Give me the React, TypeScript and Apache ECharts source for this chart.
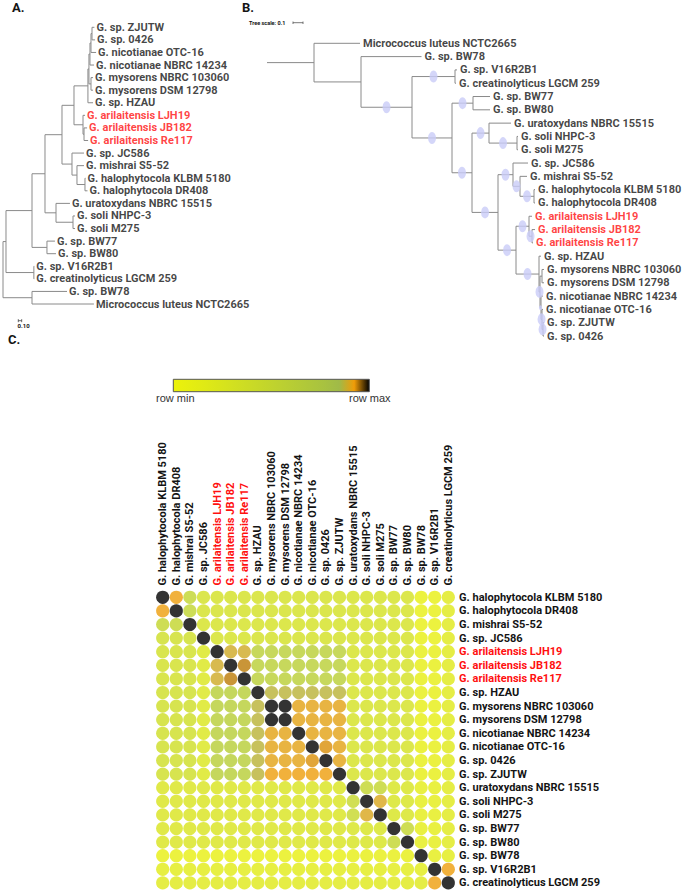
import React, { useEffect, useRef } from "react";
import * as echarts from "echarts";

// ---------- DATA ----------
const species: string[] = [
  "G. halophytocola KLBM 5180",
  "G. halophytocola DR408",
  "G. mishrai S5-52",
  "G. sp. JC586",
  "G. arilaitensis LJH19",
  "G. arilaitensis JB182",
  "G. arilaitensis Re117",
  "G. sp. HZAU",
  "G. mysorens NBRC 103060",
  "G. mysorens DSM 12798",
  "G. nicotianae NBRC 14234",
  "G. nicotianae OTC-16",
  "G. sp. 0426",
  "G. sp. ZJUTW",
  "G. uratoxydans NBRC 15515",
  "G. soli NHPC-3",
  "G. soli M275",
  "G. sp. BW77",
  "G. sp. BW80",
  "G. sp. BW78",
  "G. sp. V16R2B1",
  "G. creatinolyticus LGCM 259",
];

const highlighted: string[] = [
  "G. arilaitensis LJH19",
  "G. arilaitensis JB182",
  "G. arilaitensis Re117",
];

// position on the row-min .. row-max colour scale (0..100), row by row
const heatRows: number[][] = [
  [100, 92, 50, 31, 31, 31, 31, 31, 31, 31, 31, 31, 31, 31, 30, 30, 30, 30, 30, 6, 6, 18],
  [92, 100, 50, 31, 31, 31, 31, 31, 31, 31, 31, 31, 31, 31, 30, 30, 30, 30, 30, 6, 6, 18],
  [48, 48, 100, 30, 30, 30, 30, 30, 30, 30, 30, 30, 30, 30, 30, 30, 30, 30, 30, 6, 6, 18],
  [36, 36, 36, 100, 30, 30, 30, 31, 31, 31, 31, 31, 31, 31, 30, 30, 30, 30, 30, 6, 6, 18],
  [34, 34, 34, 22, 100, 89, 89, 58, 58, 58, 58, 58, 58, 58, 30, 30, 30, 30, 30, 8, 8, 18],
  [34, 34, 34, 22, 89, 100, 94, 58, 58, 58, 58, 58, 58, 58, 30, 30, 30, 30, 30, 8, 8, 18],
  [34, 34, 34, 22, 89, 94, 100, 58, 58, 58, 58, 58, 58, 58, 30, 30, 30, 30, 30, 8, 8, 18],
  [36, 36, 36, 22, 60, 60, 60, 100, 87, 87, 87, 87, 87, 87, 30, 30, 30, 30, 30, 8, 8, 18],
  [36, 36, 36, 22, 60, 60, 60, 87, 100, 100, 91, 91, 91, 91, 30, 30, 30, 30, 30, 8, 8, 18],
  [36, 36, 36, 22, 60, 60, 60, 87, 100, 100, 91, 91, 91, 91, 30, 30, 30, 30, 30, 8, 8, 18],
  [36, 36, 36, 22, 60, 60, 60, 87, 91, 91, 100, 91, 91, 91, 30, 30, 30, 30, 30, 8, 8, 18],
  [36, 36, 36, 22, 60, 60, 60, 87, 91, 91, 91, 100, 93, 91, 30, 30, 30, 30, 30, 8, 8, 18],
  [36, 36, 36, 22, 60, 60, 60, 87, 91, 91, 91, 93, 100, 91, 30, 30, 30, 30, 30, 8, 8, 18],
  [36, 36, 36, 22, 60, 60, 60, 87, 92, 92, 92, 92, 92, 100, 30, 30, 30, 30, 30, 8, 8, 18],
  [24, 24, 24, 24, 24, 24, 24, 24, 24, 24, 24, 24, 24, 24, 100, 48, 48, 26, 26, 12, 12, 18],
  [24, 24, 24, 24, 24, 24, 24, 24, 24, 24, 24, 24, 24, 24, 45, 100, 90, 26, 26, 12, 12, 18],
  [24, 24, 24, 24, 24, 24, 24, 24, 24, 24, 24, 24, 24, 24, 45, 90, 100, 26, 26, 12, 12, 18],
  [24, 24, 24, 24, 24, 24, 24, 24, 24, 24, 24, 24, 24, 24, 26, 26, 26, 100, 48, 12, 12, 18],
  [24, 24, 24, 24, 24, 24, 24, 24, 24, 24, 24, 24, 24, 24, 26, 26, 26, 48, 100, 12, 12, 18],
  [6, 6, 6, 6, 6, 6, 6, 6, 6, 6, 6, 6, 6, 6, 8, 8, 8, 8, 8, 100, 12, 14],
  [14, 14, 14, 14, 14, 14, 14, 14, 14, 14, 14, 14, 14, 14, 14, 14, 14, 14, 14, 14, 100, 92],
  [18, 18, 18, 18, 18, 18, 18, 18, 18, 18, 18, 18, 18, 18, 18, 18, 18, 18, 18, 18, 92, 100],
];

const scaleColors: string[] = [
  "#ecf20a", "#e6ee10", "#e0ea15", "#d9e51a", "#d2e020", "#cbdb25", "#c4d62a",
  "#bdd130", "#b6cc35", "#afc73a", "#a8c240", "#a0ba48", "#f09c08", "#000000",
];

const colorbarTexts: string[] = ["row min", "row max"];

// Tree A (branch lengths, substitutions per site)
const treeANewick =
  "((((((((((((G. sp. ZJUTW:0.07,G. sp. 0426:0.09):0.03,G. nicotianae OTC-16:0.15):0.03,G. nicotianae NBRC 14234:0.12):0.03,(G. mysorens NBRC 103060:0.06,G. mysorens DSM 12798:0.06):0.06):0.03,G. sp. HZAU:0.15):0.41," +
  "(G. arilaitensis LJH19:0.06,(G. arilaitensis JB182:0.09,G. arilaitensis Re117:0.12):0.03):0.265):0.353," +
  "(G. sp. JC586:0.353,(G. mishrai S5-52:0.206,(G. halophytocola KLBM 5180:0.015,G. halophytocola DR408:0.074):0.235):0.147):0.294):0.5," +
  "(G. uratoxydans NBRC 15515:0.41,(G. soli NHPC-3:0.06,G. soli M275:0.06):0.5):0.324):0.382," +
  "(G. sp. BW77:0.235,G. sp. BW80:0.265):0.44):0.765," +
  "(G. sp. V16R2B1:0.01,G. creatinolyticus LGCM 259:0.01):0.82):0.088," +
  "(G. sp. BW78:1.03,Micrococcus luteus NCTC2665:1.82):0.853)";

// Tree B (internal labels = support)
const treeBNewick =
  "((Micrococcus luteus NCTC2665:0.46,(G. sp. BW78:0.605,((G. sp. V16R2B1:0.02,G. creatinolyticus LGCM 259:0.01)100:0.43," +
  "((G. sp. BW77:0.17,G. sp. BW80:0.17)100:0.21," +
  "((G. uratoxydans NBRC 15515:0.22,(G. soli NHPC-3:0.01,G. soli M275:0.01)100:0.28)100:0.17," +
  "((G. sp. JC586:0.15,(G. mishrai S5-52:0.07,(G. halophytocola KLBM 5180:0.01,G. halophytocola DR408:0.01)100:0.14)100:0.07)100:0.15," +
  "((G. arilaitensis LJH19:0.03,(G. arilaitensis JB182:0.03,G. arilaitensis Re117:0.01)100:0.03)100:0.13," +
  "(G. sp. HZAU:0.02,((G. mysorens NBRC 103060:0.02,G. mysorens DSM 12798:0.02):0.02," +
  "(G. nicotianae NBRC 14234:0.02,(G. nicotianae OTC-16:0.01,(G. sp. ZJUTW:0.01,G. sp. 0426:0.01)100:0.01)100:0.01)40:0.01)100:0.01)100:0.23)100:0.18)100:0.26)100:0.20)100:0.40)100:0.51):0.47):0.47)";

// ---------- TREE HELPERS ----------
type TNode = { name: string; length: number; children: TNode[]; x: number; y: number };

function parseNewick(s: string): TNode {
  let i = 0;
  const parseNode = (): TNode => {
    const node: TNode = { name: "", length: 0, children: [], x: 0, y: 0 };
    if (s[i] === "(") {
      i++;
      for (;;) {
        node.children.push(parseNode());
        if (s[i] === ",") { i++; continue; }
        if (s[i] === ")") { i++; break; }
        break;
      }
    }
    let name = "";
    while (i < s.length && ":,();".indexOf(s[i]) < 0) { name += s[i]; i++; }
    node.name = name.trim();
    if (s[i] === ":") {
      i++;
      let num = "";
      while (i < s.length && ",();".indexOf(s[i]) < 0) { num += s[i]; i++; }
      node.length = parseFloat(num);
    }
    return node;
  };
  return parseNode();
}

function layoutTree(root: TNode) {
  const segs: number[][] = [];
  const leaves: TNode[] = [];
  const supports: { x: number; y: number; s: number }[] = [];
  let idx = 0;
  const walk = (n: TNode, x0: number, isRoot: boolean) => {
    n.x = x0 + (isRoot ? 0 : n.length);
    if (n.children.length === 0) {
      n.y = idx++;
      leaves.push(n);
    } else {
      n.children.forEach((c) => walk(c, n.x, false));
      const first = n.children[0];
      const last = n.children[n.children.length - 1];
      n.y = (first.y + last.y) / 2;
      segs.push([n.x, first.y, n.x, last.y]);
      const sup = parseFloat(n.name);
      if (!isNaN(sup)) supports.push({ x: (x0 + n.x) / 2, y: n.y, s: sup });
    }
    if (!isRoot && n.length > 0) segs.push([x0, n.y, n.x, n.y]);
  };
  walk(root, 0, true);
  return { segs, leaves, supports };
}

const FONT = "Roboto, 'Liberation Sans', Arial, sans-serif";
const RED = "#ff1010";
const INK = "#141414";

export default function App() {
  const ref = useRef<HTMLDivElement>(null);
  useEffect(() => {
    if (!ref.current) return;
    const chart = echarts.init(ref.current, undefined, { renderer: "svg" });

    const A = layoutTree(parseNewick(treeANewick));
    const B = layoutTree(parseNewick(treeBNewick));

    const gA = { left: 3, top: 27.3, width: 102, height: 276.7, xMax: 3 };
    const gB = { left: 267, top: 43.3, width: 300, height: 292.7, xMax: 3 };
    const gC = { left: 155.9, top: 590.5, width: 299.2, height: 299.2 };

    const branchItem = (stroke: string) => (params: any, api: any) => {
      const p1 = api.coord([api.value(0), api.value(1)]);
      const p2 = api.coord([api.value(2), api.value(3)]);
      return {
        type: "line",
        shape: { x1: p1[0], y1: p1[1], x2: p2[0], y2: p2[1] },
        style: { stroke, lineWidth: 1 },
      };
    };

    const isRed = (v: string) => highlighted.indexOf(v) >= 0;
    const labelColor = (v: string) => (isRed(v) ? RED : INK);

    const leafLabels = (leaves: TNode[]) =>
      leaves.map((l) => ({
        value: [l.x, l.y],
        name: l.name,
        label: { color: labelColor(l.name) },
      }));

    const heatData: number[][] = [];
    heatRows.forEach((row, r) => row.forEach((v, c) => heatData.push([c, r, v])));

    const n = scaleColors.length;
    const stops = scaleColors.map((c, i) => ({ offset: i / (n - 1), color: c }));

    const scaleA = (0.1 * gA.width) / gA.xMax;
    const scaleB = (0.1 * gB.width) / gB.xMax;

    const option: any = {
      animation: false,
      grid: [
        { left: gA.left, top: gA.top, width: gA.width, height: gA.height },
        { left: gB.left, top: gB.top, width: gB.width, height: gB.height },
        { left: gC.left, top: gC.top, width: gC.width, height: gC.height },
      ],
      xAxis: [
        { gridIndex: 0, type: "value", min: 0, max: gA.xMax, show: false },
        { gridIndex: 1, type: "value", min: 0, max: gB.xMax, show: false },
        {
          gridIndex: 2, type: "category", data: species, position: "top",
          axisLine: { show: false }, axisTick: { show: false }, splitLine: { show: false },
          axisLabel: { show: false },
        },
      ],
      yAxis: [
        { gridIndex: 0, type: "value", min: 0, max: 22, inverse: true, show: false },
        { gridIndex: 1, type: "value", min: 0, max: 22, inverse: true, show: false },
        {
          gridIndex: 2, type: "category", data: species, inverse: true, position: "right",
          axisLine: { show: false }, axisTick: { show: false }, splitLine: { show: false },
          axisLabel: {
            interval: 0, margin: 4, fontFamily: FONT, fontWeight: "bold",
            fontSize: 11, color: labelColor,
          },
        },
      ],
      visualMap: {
        type: "continuous", show: false, seriesIndex: 5, dimension: 2, min: 0, max: 100,
        inRange: { color: scaleColors },
      },
      series: [
        {
          type: "custom", xAxisIndex: 0, yAxisIndex: 0, data: A.segs,
          renderItem: branchItem("#8a8a8a"), silent: true,
        },
        {
          type: "scatter", xAxisIndex: 0, yAxisIndex: 0, symbolSize: 0, data: leafLabels(A.leaves),
          label: {
            show: true, position: "right", distance: 2, formatter: "{b}",
            fontFamily: FONT, fontWeight: "bold", fontSize: 11,
          },
          silent: true,
        },
        {
          type: "custom", xAxisIndex: 1, yAxisIndex: 1, data: B.segs,
          renderItem: branchItem("#8a8a8a"), silent: true,
        },
        {
          type: "scatter", xAxisIndex: 1, yAxisIndex: 1,
          data: B.supports.map((s) => ({
            value: [s.x, s.y],
            symbolSize: [8 * (s.s / 100), 12 * (s.s / 100)],
          })),
          symbol: "circle", itemStyle: { color: "#c9ccf7" }, silent: true,
        },
        {
          type: "scatter", xAxisIndex: 1, yAxisIndex: 1, symbolSize: 0, data: leafLabels(B.leaves),
          label: {
            show: true, position: "right", distance: 3, formatter: "{b}",
            fontFamily: FONT, fontWeight: "bold", fontSize: 11,
          },
          silent: true,
        },
        {
          type: "scatter", xAxisIndex: 2, yAxisIndex: 2, data: heatData, symbol: "circle",
          symbolSize: 13.2, silent: true,
        },
        {
          // column labels of the heatmap, read bottom to top
          type: "custom", xAxisIndex: 2, yAxisIndex: 2, clip: false, silent: true,
          data: species.map((_, i) => [i, 0]),
          renderItem: (params: any, api: any) => {
            const p = api.coord([api.value(0), api.value(1)]);
            const name = species[params.dataIndex];
            return {
              type: "text",
              x: p[0],
              y: gC.top - 5,
              rotation: Math.PI / 2,
              style: {
                text: name,
                fill: labelColor(name),
                font: `bold 11px ${FONT}`,
                align: "left",
                verticalAlign: "middle",
                textAlign: "left",
                textVerticalAlign: "middle",
              },
            };
          },
        },
      ],
      graphic: [
        { type: "text", left: 12, top: 1, style: { text: "A.", font: `bold 13px ${FONT}`, fill: INK } },
        { type: "text", left: 242, top: 1, style: { text: "B.", font: `bold 13px ${FONT}`, fill: INK } },
        { type: "text", left: 8, top: 333, style: { text: "C.", font: `bold 13px ${FONT}`, fill: INK } },
        // tree A scale bar
        { type: "line", shape: { x1: 18.3, y1: 320.7, x2: 18.3 + scaleA, y2: 320.7 }, style: { stroke: "#444", lineWidth: 0.8 } },
        { type: "line", shape: { x1: 18.3, y1: 319.2, x2: 18.3, y2: 322.2 }, style: { stroke: "#444", lineWidth: 0.8 } },
        { type: "line", shape: { x1: 18.3 + scaleA, y1: 319.2, x2: 18.3 + scaleA, y2: 322.2 }, style: { stroke: "#444", lineWidth: 0.8 } },
        { type: "text", x: 17.5, y: 322.5, style: { text: "0.10", font: `bold 6px ${FONT}`, fill: INK } },
        // tree B scale
        { type: "text", x: 249, y: 20, style: { text: "Tree scale: 0.1", font: `bold 5.5px ${FONT}`, fill: INK } },
        { type: "line", shape: { x1: 293, y1: 22.7, x2: 293 + scaleB, y2: 22.7 }, style: { stroke: "#555", lineWidth: 0.8 } },
        { type: "line", shape: { x1: 293, y1: 21.5, x2: 293, y2: 24 }, style: { stroke: "#555", lineWidth: 0.8 } },
        { type: "line", shape: { x1: 293 + scaleB, y1: 21.5, x2: 293 + scaleB, y2: 24 }, style: { stroke: "#555", lineWidth: 0.8 } },
        // colorbar
        {
          type: "rect", shape: { x: 173.3, y: 379.3, width: 196, height: 12.4 },
          style: {
            fill: { type: "linear", x: 0, y: 0, x2: 1, y2: 0, colorStops: stops },
            stroke: "#555", lineWidth: 1,
          },
        },
        { type: "text", x: 156, y: 392, style: { text: colorbarTexts[0], font: `11px 'Liberation Sans', Arial, sans-serif`, fill: "#333" } },
        { type: "text", x: 349, y: 392, style: { text: colorbarTexts[1], font: `11px 'Liberation Sans', Arial, sans-serif`, fill: "#333" } },
      ],
    };

    chart.setOption(option);
    return () => chart.dispose();
  }, []);

  return (
    <div
      ref={ref}
      style={{ position: "fixed", left: 0, top: 0, width: 685, height: 891, background: "#fff" }}
    />
  );
}
